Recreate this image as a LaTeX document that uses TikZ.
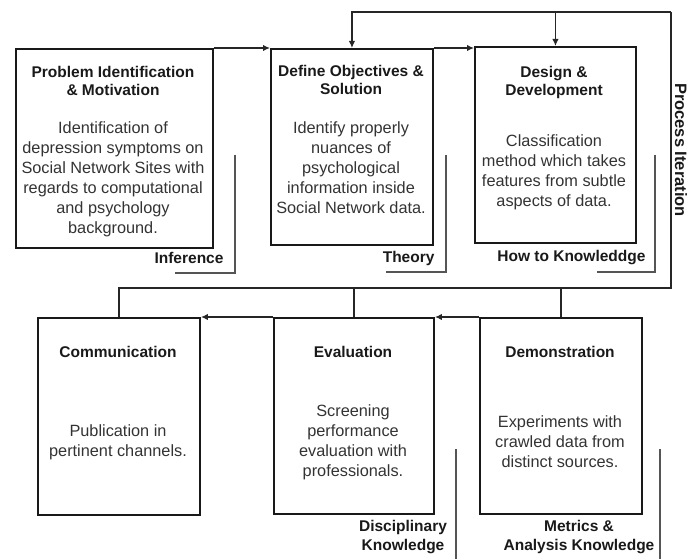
\documentclass[tikz,border=0pt]{standalone}
\usepackage{fontspec}
\setmainfont{Liberation Sans}
\usetikzlibrary{arrows.meta}
\definecolor{bodygray}{HTML}{333333}
\definecolor{brackgray}{HTML}{555555}
\begin{document}
\begin{tikzpicture}[x=1pt,y=-1pt,
  stage/.style={draw=black!90,line width=1.9pt,minimum width=#1,anchor=north west,inner sep=0pt},
  title/.style={font=\bfseries\fontsize{15.5}{18}\selectfont,align=center,text=black!90},
  body/.style={font=\fontsize{16.3}{20}\selectfont,align=center,text=bodygray},
  tag/.style={font=\bfseries\fontsize{15.5}{19}\selectfont,align=center,text=black!90},
  conn/.style={line width=1.8pt,draw=black!85},
  arr/.style={conn,-{Latex[length=7pt,width=6.5pt]}},
  brk/.style={line width=1.1pt,draw=brackgray}]
\useasboundingbox (0,0) rectangle (687,559);

% process stages, top row
\node[stage=197pt,minimum height=199pt] (b1) at (15,48) {};
\node[stage=162pt,minimum height=196pt] (b2) at (270,48) {};
\node[stage=161pt,minimum height=196pt] (b3) at (474,46) {};
% process stages, bottom row
\node[stage=162pt,minimum height=197pt] (b4) at (37,317) {};
\node[stage=160pt,minimum height=196pt] (b5) at (273,317) {};
\node[stage=162pt,minimum height=196pt] (b6) at (479,317) {};

% stage titles
\node[title] (t1) at (113,81) {Problem Identification\\\& Motivation};
\node[title] (t2) at (351,80) {Define Objectives \&\\Solution};
\node[title] (t3) at (554,82) {Design \&\\Development};
\node[title] (t4) at (118,352) {Communication};
\node[title] (t5) at (353,352) {Evaluation};
\node[title] (t6) at (560,352) {Demonstration};

% stage descriptions
\node[body] (d1) at (113,179) {Identification of\\depression symptoms on\\Social Network Sites with\\regards to computational\\and psychology\\background.};
\node[body] (d2) at (351,168) {Identify properly\\nuances of\\psychological\\information inside\\Social Network data.};
\node[body] (d3) at (554,172) {Classification\\method which takes\\features from subtle\\aspects of data.};
\node[body] (d4) at (118,442) {Publication in\\pertinent channels.};
\node[body] (d5) at (353,442) {Screening\\performance\\evaluation with\\professionals.};
\node[body] (d6) at (560,442) {Experiments with\\crawled data from\\distinct sources.};

% forward flow
\draw[arr] (b1.north east) -- (b2.north west);
\draw[arr] (b2.north east) -- (b3.north west |- b2.north east);
\draw[arr] (b5.north west) -- (b4.north east);
\draw[arr] (b6.north west) -- (b5.north east);

% iteration loop
\coordinate (rb) at (671,288);
\coordinate (rt) at (671,12);
\draw[conn] (b4.north) |- (rb) -- (rt);
\draw[arr] (rt) -| (b2.north);
\draw[arr] (b3.north |- rt) -- (b3.north);
\draw[conn] (b5.north) -- (b5.north |- rb);
\draw[conn] (b6.north) -- (b6.north |- rb);
\node[tag,rotate=-90,font=\bfseries\fontsize{16.5}{19}\selectfont] (pi) at (681,150) {Process Iteration};

% knowledge brackets
\draw[brk] (235,155) -- (235,273) -- (175,273);
\node[tag,anchor=east] (k1) at (227,258) {Inference};
\draw[brk] (446,155) -- (446,272) -- (386,272);
\node[tag,anchor=east] (k2) at (438,258) {Theory};
\draw[brk] (655,155) -- (655,272) -- (597,272);
\node[tag,anchor=east] (k3) at (649,258) {How to Knowleddge};
\draw[brk] (456,449) -- (456,559);
\node[tag] (k4) at (403,537) {Disciplinary\\Knowledge};
\draw[brk] (660,449) -- (660,559);
\node[tag] (k5) at (579,537) {Metrics \&\\Analysis Knowledge};
\end{tikzpicture}
\end{document}
